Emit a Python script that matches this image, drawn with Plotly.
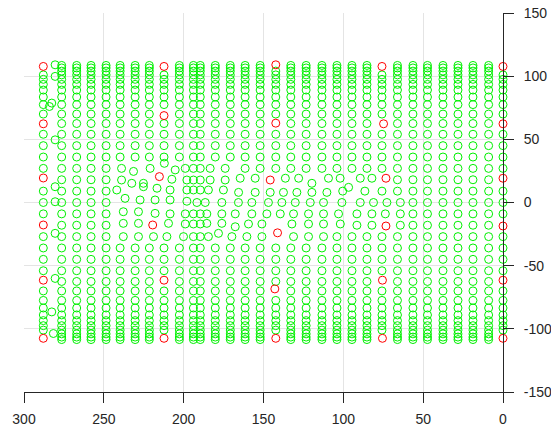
import plotly.graph_objects as go

# Column x positions of the regular green lattice
col_x = [0, 9.0, 18.8, 28.2, 37.6, 47.3, 56.4, 66.1, 75.8, 85.2, 94.6, 104.0, 113.4,
         123.3, 132.9, 142.3, 152.1, 161.5, 170.8, 180.2, 189.6, 193.9, 202.7, 212.3,
         221.5, 230.4, 239.8, 248.6, 258.0, 267.0, 276.4, 287.9]
# Row y positions (upper half, mirrored below)
row_y_upper = [0, 9, 18, 27, 36, 45, 54, 62.5, 70, 77.5, 83.5, 89, 93.5, 97.5, 101,
               104, 106.5, 108.5]
row_y = [-v for v in reversed(row_y_upper[1:])] + row_y_upper

# Distorted middle band (replaces the lattice for x in [60, 242], y in [-30, 30])
mid_x = [238.9, 231.4, 221.0, 212.1, 205.3, 199.0, 193.9, 189.6, 183.4, 174.0, 161.5, 152.1,
         142.3, 132.9, 123.3, 113.4, 104.0, 94.6, 85.2, 75.8, 66.1,
         238.9, 232.5, 225.2, 207.4, 198.0, 193.9, 189.6, 183.4, 174.0, 164.6, 155.2,
         136.3, 128.0, 119.7, 109.3, 102.0, 89.4, 82.1, 66.1,
         241.9, 225.2, 216.7, 208.5, 198.0, 193.9, 189.6, 184.5, 175.1, 165.6, 155.2,
         145.8, 137.5, 129.1, 119.7, 110.3, 100.4, 96.7, 86.5, 75.8, 66.1,
         236.7, 227.3, 217.9, 208.5, 198.0, 191.7, 186.5, 176.1, 165.7, 157.3, 146.9,
         138.5, 130.1, 120.7, 112.4, 100.9, 89.4, 81.1, 72.7, 64.3,
         237.8, 228.3, 217.9, 208.5, 199.0, 193.9, 189.6, 185.5, 176.1, 167.7, 157.3,
         147.9, 139.5, 131.2, 121.8, 112.4, 103.0, 91.5, 82.1, 73.7, 64.3,
         237.8, 228.3, 209.5, 199.0, 193.9, 189.6, 185.5, 176.1, 167.7, 159.4, 151.0,
         132.2, 121.8, 112.4, 101.9, 91.5, 82.1, 64.3,
         237.8, 228.3, 218.9, 210.5, 200.1, 193.9, 189.6, 184.5, 178.2, 169.8, 160.4,
         151.0, 131.2, 121.8, 112.4, 104.0, 94.6, 85.2, 75.8, 66.1]
mid_y = [27, 24.6, 27, 31, 25.8, 27, 27, 27, 27, 27, 27, 27,
         27, 27, 27, 27, 27, 27, 27, 27, 27,
         17.8, 15.2, 15.2, 18.4, 17.8, 17.8, 17.8, 17.8, 17.8, 19.2, 19.2,
         19.2, 19.2, 15.2, 19.2, 19.2, 19.2, 19.2, 18,
         9.9, 12.5, 11.3, 9.9, 9.9, 9.9, 9.9, 9.9, 9.9, 8, 8,
         8, 8, 8, 8, 8, 9, 12, 9, 9, 9,
         3.3, 2, 2, 2, 1, 0, 0, 0, 0, 0, 0,
         0, 0, 0, 0, 0, 0, 0, 0, 0,
         -7.3, -7.3, -8.6, -9, -9, -9, -9, -9, -9, -9, -9,
         -9, -9, -9, -9, -9, -9, -9, -9, -9, -9,
         -16.5, -16.5, -16.5, -17, -17, -17, -16.5, -16.5, -19.2, -17, -17,
         -17, -17, -17, -17, -18, -18, -18,
         -27, -27, -27, -27, -27, -27, -27, -27, -24.4, -27, -27,
         -27, -27, -27, -27, -27, -27, -27, -27, -27]

# Sparse extra points beside the left-most columns
extra_x = [280.5, 280.5, 282.6, 284.1, 280.5, 280.5, 280.5, 280.5, 280.5, 282.6, 281.6]
extra_y = [109, 99.8, 78.7, 76, 49.6, 12.5, 0.6, -24.4, -60.1, -86.6, -103.7]

# Red markers
red_x = [287.9, 287.9, 287.9, 287.9, 287.9, 287.9,
         212.3, 212.3, 215.2, 219.4, 212.3, 212.3,
         142.3, 142.3, 145.8, 141.2, 142.9, 142.3,
         75.8, 74.8, 73.3, 73.3, 75.5, 75.5,
         0, 0, 0, 0, 0, 0]
red_y = [107.7, 62.3, 19.4, -17.8, -61.5, -107.5,
         107.7, 68.8, 20.5, -17.8, -61.5, -107.5,
         109.0, 62.8, 17.8, -24.0, -68.4, -107.5,
         107.7, 62.3, 19.2, -18.6, -61.5, -107.5,
         107.7, 62.3, 19.2, -18.6, -61.5, -107.5]

x_ticks = [300, 250, 200, 150, 100, 50, 0]
y_ticks = [-150, -100, -50, 0, 50, 100, 150]


def near_red(x, y):
    return any((x - rx) ** 2 + (y - ry) ** 2 < 25 for rx, ry in zip(red_x, red_y))


gx, gy = [], []
for x in col_x:
    for y in row_y:
        if 60 <= x <= 242 and -30 <= y <= 30:
            continue
        if near_red(x, y):
            continue
        gx.append(x)
        gy.append(y)
for x, y in zip(mid_x + extra_x, mid_y + extra_y):
    if not near_red(x, y):
        gx.append(x)
        gy.append(y)

fig = go.Figure()
fig.add_trace(go.Scatter(x=gx, y=gy, mode="markers", cliponaxis=False,
                         marker=dict(symbol="circle-open", size=8, color="#00f000",
                                     line=dict(width=1)),
                         hoverinfo="skip"))
fig.add_trace(go.Scatter(x=red_x, y=red_y, mode="markers", cliponaxis=False,
                         marker=dict(symbol="circle-open", size=8, color="#ff0000",
                                     line=dict(width=1)),
                         hoverinfo="skip"))

axis_common = dict(showgrid=True, gridcolor="#e4e4e4", gridwidth=1, zeroline=False,
                   showline=True, linecolor="#262626", linewidth=1, ticks="outside",
                   ticklen=10, tickcolor="#262626", tickwidth=1, automargin=False,
                   tickfont=dict(family="Liberation Sans, Arial", size=14, color="#262626"),
                   mirror=False)

fig.update_layout(
    width=551, height=429,
    margin=dict(l=24, r=48, t=13, b=37),
    plot_bgcolor="white", paper_bgcolor="white",
    showlegend=False,
    xaxis=dict(range=[300, 0], tickvals=x_ticks, ticktext=[str(v) for v in x_ticks],
               ticklabelstandoff=4, **axis_common),
    yaxis=dict(range=[-150, 150], side="right", tickvals=y_ticks,
               ticktext=[str(v) for v in y_ticks], ticklabelstandoff=7, **axis_common),
)

fig.write_html("out.html", config={"displayModeBar": False},
               post_script="document.body.style.margin='0px';document.body.style.overflow='hidden';")
